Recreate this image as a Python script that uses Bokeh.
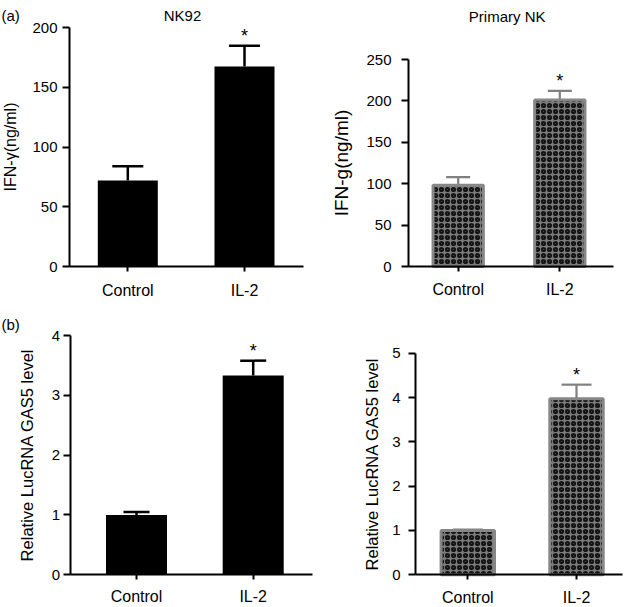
from bokeh.plotting import figure
from bokeh.models import (Range1d, FixedTicker, Whisker, TeeHead, ColumnDataSource,
                          Label, LinearAxis)
from bokeh.core.properties import value
from bokeh.embed import file_html
from bokeh.resources import INLINE

# ---------------- data ----------------
categories = ["Control", "IL-2"]
significance = ["", "*"]

nk92_ifn = [72, 167.5]
nk92_ifn_err = [12, 17.5]
nk92_ifn_ticks = [0, 50, 100, 150, 200]

primary_ifn = [98, 201]
primary_ifn_err = [10, 11]
primary_ifn_ticks = [0, 50, 100, 150, 200, 250]

nk92_gas5 = [1.0, 3.33]
nk92_gas5_err = [0.05, 0.25]
nk92_gas5_ticks = [0, 1, 2, 3, 4]

primary_gas5 = [1.0, 3.97]
primary_gas5_err = [0.02, 0.32]
primary_gas5_ticks = [0, 1, 2, 3, 4, 5]

FONT = "Liberation Sans"
W, H = 633, 607
S = 1.0          # scale from reference pixels to canvas pixels


def fs(v):
    return f"{v * S:.2f}px"


p = figure(width=W, height=H, output_backend="svg", toolbar_location=None,
           x_axis_type=None, y_axis_type=None, title=None,
           x_range=Range1d(0, 1), y_range=Range1d(0, 1),
           min_border=0, min_border_left=0, min_border_right=0,
           min_border_top=0, min_border_bottom=0)
p.outline_line_color = None
p.background_fill_color = "white"
p.border_fill_color = "white"


def panel(name, vals, errs, ticks, ylabel, anchors, bar_px, style, cap,
          ylab_size, y_std, ylab_std, x_std):
    c0, c1, xL, xR, yb, yt = anchors       # reference-pixel anchors of the panel
    ux = (c1 - c0) * S                     # canvas px per category step
    uy = (yb - yt) * S / ticks[-1]         # canvas px per value unit
    x0, y0 = c0 * S, yb * S
    p.extra_x_ranges = {**p.extra_x_ranges, name: Range1d(-x0 / ux, (W - x0) / ux)}
    p.extra_y_ranges = {**p.extra_y_ranges, name: Range1d(-(H - y0) / uy, y0 / uy)}
    rn = dict(x_range_name=name, y_range_name=name)

    idx = list(range(len(categories)))
    src = ColumnDataSource(dict(
        x=idx, top=vals, upper=[v + e for v, e in zip(vals, errs)], star=significance))

    if style == "solid":
        p.vbar(x="x", top="top", bottom=0, width=bar_px * S / ux, source=src,
               fill_color="black", line_color=None, **rn)
        ecol, elw = "black", 2.5
    else:
        p.vbar(x="x", top="top", bottom=0, width=(bar_px - 3) * S / ux, source=src,
               fill_color="#7a7a7a", line_color="#878787", line_width=3,
               hatch_pattern="ring", hatch_scale=6, hatch_color="#141414",
               hatch_weight=2.2, **rn)
        ecol, elw = "#808080", 2.2

    p.add_layout(Whisker(source=src, base="x", lower="top", upper="upper",
                         dimension="height", line_color=ecol, line_width=elw,
                         lower_head=None,
                         upper_head=TeeHead(size=cap * S, line_color=ecol, line_width=elw),
                         **rn))

    p.text(x="x", y="upper", text="star", source=src, text_align="center",
           text_baseline="alphabetic", y_offset=-10, text_font=value(FONT),
           text_font_size=fs(18), text_color="black", **rn)

    xa = LinearAxis(fixed_location=0, bounds=((xL - c0) / (c1 - c0), (xR - c0) / (c1 - c0)),
                    ticker=FixedTicker(ticks=idx),
                    major_label_overrides={i: c for i, c in zip(idx, categories)},
                    major_tick_out=5, major_label_standoff=x_std,
                    major_label_text_font_size=fs(16), **rn)
    ya = LinearAxis(fixed_location=(xL - c0) / (c1 - c0), bounds=(ticks[0], ticks[-1]),
                    ticker=FixedTicker(ticks=ticks), major_tick_out=7,
                    major_label_standoff=y_std, major_label_text_font_size=fs(15),
                    axis_label=ylabel, axis_label_text_font=FONT,
                    axis_label_text_font_style="normal", axis_label_text_font_size=ylab_size,
                    axis_label_text_color="black", axis_label_standoff=ylab_std, **rn)
    for ax in (xa, ya):
        ax.axis_line_width = 2
        ax.axis_line_color = "black"
        ax.major_tick_line_width = 2
        ax.major_tick_line_color = "black"
        ax.major_tick_in = 0
        ax.minor_tick_line_color = None
        ax.major_label_text_font = FONT
        ax.major_label_text_color = "black"
    p.add_layout(xa, "below")
    p.add_layout(ya, "left")


def add_text(text, rx, ry, align="left", size=15):
    p.add_layout(Label(x=rx * S, y=H - ry * S, x_units="screen", y_units="screen",
                       text=text, text_align=align, text_baseline="alphabetic",
                       text_font=FONT, text_font_size=fs(size), text_color="black"))


# anchors: (x of Control, x of IL-2, y-axis x, x-axis end, y of 0, y of top tick)
panel("a", nk92_ifn, nk92_ifn_err, nk92_ifn_ticks, "IFN-\u03b3(ng/ml)",
      (127.3, 244.0, 69.0, 303.3, 266.0, 27.3), 60, "solid", 31,
      fs(16), 5, 10, 10)
panel("b", primary_ifn, primary_ifn_err, primary_ifn_ticks, "IFN-g(ng/ml)",
      (457.7, 559.3, 408.0, 612.7, 266.0, 59.0), 53.3, "checker", 24,
      fs(19), 10, 11, 9)
panel("c", nk92_gas5, nk92_gas5_err, nk92_gas5_ticks, "Relative LucRNA GAS5 level",
      (136.0, 252.7, 69.5, 312.3, 574.3, 335.0), 61, "solid", 26,
      fs(16.5), 3, 13, 8)
panel("d", primary_gas5, primary_gas5_err, primary_gas5_ticks, "Relative LucRNA GAS5 level",
      (467.3, 576.0, 415.0, 621.7, 574.3, 352.7), 56.4, "checker", 30,
      fs(16.5), 8, 8, 9)

add_text("(a)", 1, 14.5)
add_text("NK92", 182, 15, align="center")
add_text("Primary NK", 506.7, 15.7, align="center")
add_text("(b)", 1, 324)

open("out.html", "w").write(file_html(p, INLINE))
